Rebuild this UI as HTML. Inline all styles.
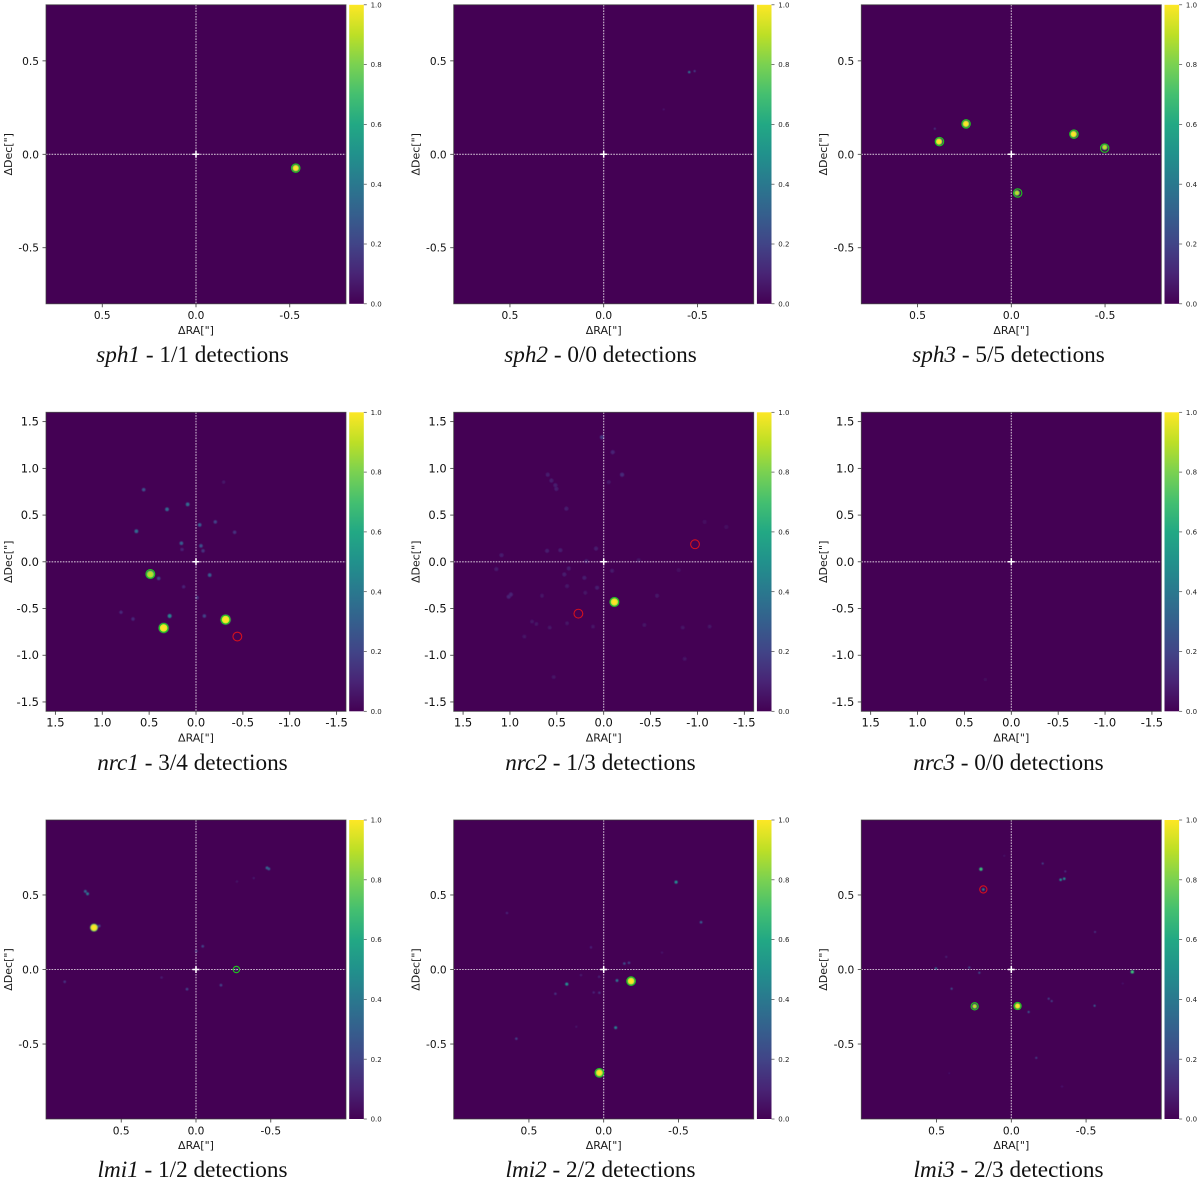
<!DOCTYPE html>
<html lang="en">
<head>
<meta charset="utf-8">
<title>Detection maps</title>
<style>
html,body{margin:0;padding:0;background:#fff;}
svg{display:block;filter:blur(0.3px);}
.tick{font-family:"DejaVu Sans",sans-serif;fill:#111;}
.axis{font-family:"DejaVu Sans",sans-serif;font-size:11px;fill:#1a1a1a;}
.cb{font-family:"DejaVu Sans",sans-serif;font-size:7px;fill:#222;}
.cap{font-family:"Liberation Serif",serif;font-size:23.2px;fill:#111;text-anchor:middle;}
</style>
</head>
<body>
<svg id="fig" xmlns="http://www.w3.org/2000/svg" width="1200" height="1183" viewBox="0 0 1200 1183">
<defs>
<linearGradient id="viridis" x1="0" y1="1" x2="0" y2="0">
<stop offset="0" stop-color="#440154"/><stop offset="0.1" stop-color="#482475"/><stop offset="0.2" stop-color="#414487"/><stop offset="0.3" stop-color="#355f8d"/><stop offset="0.4" stop-color="#2a788e"/><stop offset="0.5" stop-color="#21918c"/><stop offset="0.6" stop-color="#22a884"/><stop offset="0.7" stop-color="#44bf70"/><stop offset="0.8" stop-color="#7ad151"/><stop offset="0.9" stop-color="#bddf26"/><stop offset="1" stop-color="#fde725"/>
</linearGradient>
<filter id="soft" x="-20%" y="-20%" width="140%" height="140%"><feGaussianBlur stdDeviation="0.45"/></filter>
</defs>
<text class="cap" x="192.5" y="362"><tspan font-style="italic">sph1</tspan> - 1/1 detections</text>
<text class="cap" x="600.5" y="362"><tspan font-style="italic">sph2</tspan> - 0/0 detections</text>
<text class="cap" x="1008.5" y="362"><tspan font-style="italic">sph3</tspan> - 5/5 detections</text>
<text class="cap" x="192.5" y="770"><tspan font-style="italic">nrc1</tspan> - 3/4 detections</text>
<text class="cap" x="600.5" y="770"><tspan font-style="italic">nrc2</tspan> - 1/3 detections</text>
<text class="cap" x="1008.5" y="770"><tspan font-style="italic">nrc3</tspan> - 0/0 detections</text>
<text class="cap" x="192.5" y="1177"><tspan font-style="italic">lmi1</tspan> - 1/2 detections</text>
<text class="cap" x="600.5" y="1177"><tspan font-style="italic">lmi2</tspan> - 2/2 detections</text>
<text class="cap" x="1008.5" y="1177"><tspan font-style="italic">lmi3</tspan> - 2/3 detections</text>
</svg>
<script>
// Axis ticks and limits
const sphTicks = [0.5, 0, -0.5];
const nrcTicks = [1.5, 1, 0.5, 0, -0.5, -1, -1.5];
const lmiTicks = [0.5, 0, -0.5];
const colorbarTicks = [0, 0.2, 0.4, 0.6, 0.8, 1];
const sphLimit = 0.8;
const nrcLimit = 1.6;
const lmiLimit = 1.003;

// sph1
const sph1Ra = [-0.532];
const sph1Dec = [-0.074];
const sph1Peak = [1];
const sph1DetRa = [-0.532];
const sph1DetDec = [-0.074];
const sph1DetFound = [1];
// sph2
const sph2Ra = [-0.456, -0.485, -0.32];
const sph2Dec = [0.44, 0.445, 0.24];
const sph2Peak = [0.4, 0.2, 0.07];
const sph2DetRa = [];
const sph2DetDec = [];
const sph2DetFound = [];
// sph3
const sph3Ra = [0.386, 0.242, -0.332, -0.498, -0.03, 0.408];
const sph3Dec = [0.068, 0.163, 0.108, 0.038, -0.207, 0.137];
const sph3Peak = [1, 1, 1, 0.9, 0.9, 0.15];
const sph3DetRa = [0.383, 0.241, -0.334, -0.498, -0.034];
const sph3DetDec = [0.068, 0.163, 0.108, 0.033, -0.207];
const sph3DetFound = [1, 1, 1, 1, 1];
// nrc1
const nrc1Ra = [0.487, 0.345, -0.316, 0.558, 0.089, 0.309, 0.636, -0.039, -0.206, 0.156, -0.053, -0.075, -0.146, -0.412, 0.281, -0.089, -0.011, 0.398, 0.8, 0.672, 0.132, 0.149, -0.295];
const nrc1Dec = [-0.135, -0.708, -0.619, 0.772, 0.615, 0.562, 0.327, 0.395, 0.427, 0.199, 0.171, 0.117, -0.142, 0.316, -0.58, -0.58, -0.384, -0.178, -0.54, -0.612, -0.267, 0.132, 0.853];
const nrc1Peak = [0.9, 1, 1, 0.25, 0.35, 0.35, 0.35, 0.3, 0.2, 0.3, 0.25, 0.15, 0.3, 0.15, 0.45, 0.2, 0.15, 0.2, 0.12, 0.12, 0.1, 0.1, 0.06];
const nrc1DetRa = [0.487, 0.345, -0.316, -0.441];
const nrc1DetDec = [-0.13, -0.708, -0.619, -0.8];
const nrc1DetFound = [1, 1, 1, 0];
// nrc2
const nrc2Ra = [-0.114, 0.018, -0.096, -0.196, 0.597, 0.558, 0.516, 0.505, -0.053, 0.398, 1.09, 1.145, 1.013, 0.99, 0.764, 0.718, 0.576, 0.391, 0.114, -0.434, -0.843, -1.13, -0.864, 0.533, 0.846, 0.604, 0.462, 0.42, 0.373, 0.206, 0.185, 0.071, -0.089, -0.373, 0.082, -1.077, -1.308, -0.569, -0.8, 0.391, 0.196, 0.658];
const nrc2Dec = [-0.43, 1.333, 1.173, 0.932, 0.932, 0.87, 0.82, 0.78, 0.853, 0.569, 0.071, -0.078, -0.373, -0.35, -0.64, -0.665, -0.704, -0.658, -0.693, -0.676, -0.704, -0.693, -1.038, -1.234, -0.8, 0.117, 0.124, -0.135, -0.071, -0.171, 0.007, -0.277, -0.096, 0.018, 0.142, 0.427, 0.373, -0.363, -0.089, -0.26, -0.331, -0.363];
const nrc2Peak = [1, 0.15, 0.1, 0.12, 0.08, 0.08, 0.08, 0.08, 0.06, 0.08, 0.08, 0.07, 0.1, 0.1, 0.05, 0.05, 0.05, 0.05, 0.05, 0.05, 0.05, 0.05, 0.05, 0.05, 0.05, 0.08, 0.08, 0.08, 0.08, 0.08, 0.08, 0.08, 0.07, 0.05, 0.08, 0.04, 0.04, 0.06, 0.04, 0.06, 0.05, 0.05];
const nrc2DetRa = [-0.114, -0.974, 0.27];
const nrc2DetDec = [-0.43, 0.188, -0.555];
const nrc2DetFound = [1, 0, 0];
// nrc3
const nrc3Ra = [0.277];
const nrc3Dec = [-1.26];
const nrc3Peak = [0.03];
const nrc3DetRa = [];
const nrc3DetDec = [];
const nrc3DetFound = [];
// lmi1
const lmi1Ra = [0.682, 0.725, 0.74, -0.475, -0.487, -0.045, -0.002, 0.878, 0.23, 0.06, -0.167, -0.386, -0.274, 0.647, -0.27];
const lmi1Dec = [0.281, 0.508, 0.524, 0.682, 0.675, 0.156, 0.123, -0.082, -0.054, -0.132, -0.105, 0.613, 0.59, 0.292, 0];
const lmi1Peak = [1, 0.4, 0.35, 0.35, 0.3, 0.2, 0.15, 0.15, 0.08, 0.2, 0.2, 0.06, 0.05, 0.2, 0.15];
const lmi1DetRa = [-0.27];
const lmi1DetDec = [0];
const lmi1DetFound = [1];
// lmi2
const lmi2Ra = [-0.183, 0.029, 0.247, -0.089, -0.08, -0.484, -0.651, -0.138, -0.169, 0.323, 0.584, 0.647, 0.085, 0.029, 0.067, 0.031, 0.152, -0.39, 0.183];
const lmi2Dec = [-0.078, -0.693, -0.098, -0.074, -0.39, 0.586, 0.317, 0.04, 0.045, -0.163, -0.464, 0.379, 0.149, -0.156, -0.154, -0.049, -0.038, 0.114, -0.384];
const lmi2Peak = [1, 1, 0.5, 0.4, 0.45, 0.5, 0.3, 0.25, 0.2, 0.15, 0.2, 0.1, 0.1, 0.15, 0.1, 0.1, 0.08, 0.06, 0.05];
const lmi2DetRa = [-0.183, 0.029];
const lmi2DetDec = [-0.078, -0.693];
const lmi2DetFound = [1, 1];
// lmi3
const lmi3Ra = [0.245, -0.042, 0.203, 0.187, -0.33, -0.354, -0.21, -0.361, -0.809, 0.504, 0.281, 0.214, 0.399, -0.116, -0.25, -0.27, -0.557, -0.56, 0.435, -0.167, -0.339, 0.047, -0.745, 0.415];
const lmi3Dec = [-0.247, -0.245, 0.673, 0.537, 0.602, 0.609, 0.711, 0.658, -0.016, 0.007, 0.013, -0.022, -0.129, -0.285, -0.196, -0.212, -0.243, 0.252, 0.085, -0.593, -0.785, 0.763, -0.094, -0.696];
const lmi3Peak = [0.9, 1, 0.7, 0.5, 0.5, 0.5, 0.2, 0.15, 0.7, 0.4, 0.25, 0.25, 0.25, 0.3, 0.2, 0.2, 0.3, 0.15, 0.1, 0.2, 0.08, 0.06, 0.06, 0.05];
const lmi3DetRa = [0.245, -0.042, 0.187];
const lmi3DetDec = [-0.247, -0.245, 0.537];
const lmi3DetFound = [1, 1, 0];

const panels = [
  {id:'sph1', col:0, row:0, lim:sphLimit, ticks:sphTicks, ra:sph1Ra, dec:sph1Dec, peak:sph1Peak, dr:sph1DetRa, dd:sph1DetDec, df:sph1DetFound, cr:4.2, base:1.1, gain:2.5, fs:10.6},
  {id:'sph2', col:1, row:0, lim:sphLimit, ticks:sphTicks, ra:sph2Ra, dec:sph2Dec, peak:sph2Peak, dr:sph2DetRa, dd:sph2DetDec, df:sph2DetFound, cr:4.2, base:1.1, gain:2.5, fs:10.6},
  {id:'sph3', col:2, row:0, lim:sphLimit, ticks:sphTicks, ra:sph3Ra, dec:sph3Dec, peak:sph3Peak, dr:sph3DetRa, dd:sph3DetDec, df:sph3DetFound, cr:4.2, base:1.1, gain:2.5, fs:10.6},
  {id:'nrc1', col:0, row:1, lim:nrcLimit, ticks:nrcTicks, ra:nrc1Ra, dec:nrc1Dec, peak:nrc1Peak, dr:nrc1DetRa, dd:nrc1DetDec, df:nrc1DetFound, cr:4.4, base:1.8, gain:3.2, fs:11.5},
  {id:'nrc2', col:1, row:1, lim:nrcLimit, ticks:nrcTicks, ra:nrc2Ra, dec:nrc2Dec, peak:nrc2Peak, dr:nrc2DetRa, dd:nrc2DetDec, df:nrc2DetFound, cr:4.4, base:2.2, gain:2.2, fs:11.5},
  {id:'nrc3', col:2, row:1, lim:nrcLimit, ticks:nrcTicks, ra:nrc3Ra, dec:nrc3Dec, peak:nrc3Peak, dr:nrc3DetRa, dd:nrc3DetDec, df:nrc3DetFound, cr:4.4, base:1.8, gain:3.2, fs:11.5},
  {id:'lmi1', col:0, row:2, lim:lmiLimit, ticks:lmiTicks, ra:lmi1Ra, dec:lmi1Dec, peak:lmi1Peak, dr:lmi1DetRa, dd:lmi1DetDec, df:lmi1DetFound, cr:3.2, base:1.4, gain:2.6, fs:10.6},
  {id:'lmi2', col:1, row:2, lim:lmiLimit, ticks:lmiTicks, ra:lmi2Ra, dec:lmi2Dec, peak:lmi2Peak, dr:lmi2DetRa, dd:lmi2DetDec, df:lmi2DetFound, cr:4.3, base:1.3, gain:2.7, fs:10.6},
  {id:'lmi3', col:2, row:2, lim:lmiLimit, ticks:lmiTicks, ra:lmi3Ra, dec:lmi3Dec, peak:lmi3Peak, dr:lmi3DetRa, dd:lmi3DetDec, df:lmi3DetFound, cr:3.6, base:1.1, gain:2, fs:10.6}
];

const NS = 'http://www.w3.org/2000/svg';
const fig = document.getElementById('fig');
const COL_X = [46, 453.7, 861.3];
const ROW_Y = [4.8, 412.3, 820];
const AX = 300, AY = 299;
const VIRIDIS = ['#440154','#482475','#414487','#355f8d','#2a788e','#21918c','#22a884','#44bf70','#7ad151','#bddf26','#fde725'];

function hex(c){return [1,3,5].map(function(i){return parseInt(c.substr(i,2),16);});}
function viridis(t){
  t = Math.max(0, Math.min(1, t));
  const f = t * 10, i = Math.min(9, Math.floor(f)), u = f - i;
  const a = hex(VIRIDIS[i]), b = hex(VIRIDIS[i + 1]);
  return 'rgb(' + a.map(function(v, k){return Math.round(v + (b[k] - v) * u);}).join(',') + ')';
}
function make(tag, attrs, parent, text){
  const el = document.createElementNS(NS, tag);
  Object.keys(attrs).forEach(function(k){el.setAttribute(k, attrs[k]);});
  if (text !== undefined) el.textContent = text;
  parent.appendChild(el);
  return el;
}
function fmt(v){return v.toFixed(1);}

panels.forEach(function(p){
  const x0 = COL_X[p.col], y0 = ROW_Y[p.row];
  const xScale = function(v){return x0 + AX / 2 - v * (AX / 2) / p.lim;};
  const yScale = function(v){return y0 + AY / 2 - v * (AY / 2) / p.lim;};

  const g = make('g', {}, fig);
  
  

  const bg = make('rect', {x:x0, y:y0, width:AX, height:AY, fill:'#440154'}, g);
  
  

  const clipId = 'clip-' + p.id;
  const clip = make('clipPath', {id:clipId}, g);
  make('rect', {x:x0, y:y0, width:AX, height:AY}, clip);

  const blobs = make('g', {'clip-path':'url(#' + clipId + ')'}, g);
  
  
  const inner = make('g', {filter:'url(#soft)'}, blobs);
  p.ra.forEach(function(ra, i){
    const v = p.peak[i];
    const r = p.base + p.gain * v * v * v;
    const cx = xScale(ra), cy = yScale(p.dec[i]);
    const dot = make('g', {}, inner);
    
    
    make('circle', {cx:cx, cy:cy, r:r, fill:viridis(v * 0.72)}, dot);
    make('circle', {cx:cx, cy:cy, r:r * 0.82, fill:viridis(v * 0.95)}, dot);
    make('circle', {cx:cx, cy:cy, r:r * 0.6, fill:viridis(v)}, dot);
  });

  const midX = xScale(0), midY = yScale(0);
  const vLine = make('line', {x1:midX, x2:midX, y1:y0, y2:y0 + AY, stroke:'#fff', 'stroke-width':1.1, 'stroke-dasharray':'1.6 1.2', opacity:0.72}, g);
  
  
  const hLine = make('line', {x1:x0, x2:x0 + AX, y1:midY, y2:midY, stroke:'#fff', 'stroke-width':1.1, 'stroke-dasharray':'1.6 1.2', opacity:0.72}, g);
  
  
  const star = make('path', {d:'M' + (midX - 3.5) + ' ' + midY + 'H' + (midX + 3.5) + 'M' + midX + ' ' + (midY - 3.5) + 'V' + (midY + 3.5), stroke:'#fff', 'stroke-width':1.5}, g);
  
  

  const rings = make('g', {}, g);
  p.dr.forEach(function(ra, i){
    const c = make('circle', {cx:xScale(ra), cy:yScale(p.dd[i]), r:p.cr, fill:'none', stroke:p.df[i] ? '#1fc71f' : '#d3101f', 'stroke-width':1.1}, rings);
    
    
  });

  const spine = make('rect', {x:x0, y:y0, width:AX, height:AY, fill:'none', stroke:'#3a3a3a', 'stroke-width':0.9, opacity:0.8}, g);
  
  

  p.ticks.forEach(function(t){
    const x = xScale(t);
    const tickX = make('line', {x1:x, x2:x, y1:y0 + AY, y2:y0 + AY + 3.5, stroke:'#333', 'stroke-width':0.8}, g);
    
    
    const labelX = make('text', {class:'tick', x:x, y:y0 + AY + 15.4, 'text-anchor':'middle', style:'font-size:' + p.fs + 'px'}, g, fmt(t));
    
    
    const y = yScale(t);
    const tickY = make('line', {x1:x0 - 3.5, x2:x0, y1:y, y2:y, stroke:'#333', 'stroke-width':0.8}, g);
    
    
    const labelY = make('text', {class:'tick', x:x0 - 7, y:y + 4, 'text-anchor':'end', style:'font-size:' + p.fs + 'px'}, g, fmt(t));
    
    
  });

  const xTitle = make('text', {class:'axis', x:x0 + AX / 2, y:y0 + AY + 30, 'text-anchor':'middle'}, g, '\u0394RA["]');
  
  
  const yX = x0 - 34.2, yY = y0 + AY / 2;
  const yTitle = make('text', {class:'axis', x:yX, y:yY, 'text-anchor':'middle', transform:'rotate(-90 ' + yX + ' ' + yY + ')'}, g, '\u0394Dec["]');
  
  

  const cbX = x0 + 303.2, cbW = 14.6;
  const bar = make('rect', {x:cbX, y:y0, width:cbW, height:AY, fill:'url(#viridis)'}, g);
  
  
  const cbScale = function(v){return y0 + AY - v * AY;};
  colorbarTicks.forEach(function(t){
    const y = cbScale(t);
    const tk = make('line', {x1:cbX + cbW, x2:cbX + cbW + 3, y1:y, y2:y, stroke:'#444', 'stroke-width':0.7}, g);
    
    
    const lb = make('text', {class:'cb', x:cbX + cbW + 6.8, y:y + 2.6}, g, fmt(t));
    
    
  });
});
</script>
</body>
</html>
